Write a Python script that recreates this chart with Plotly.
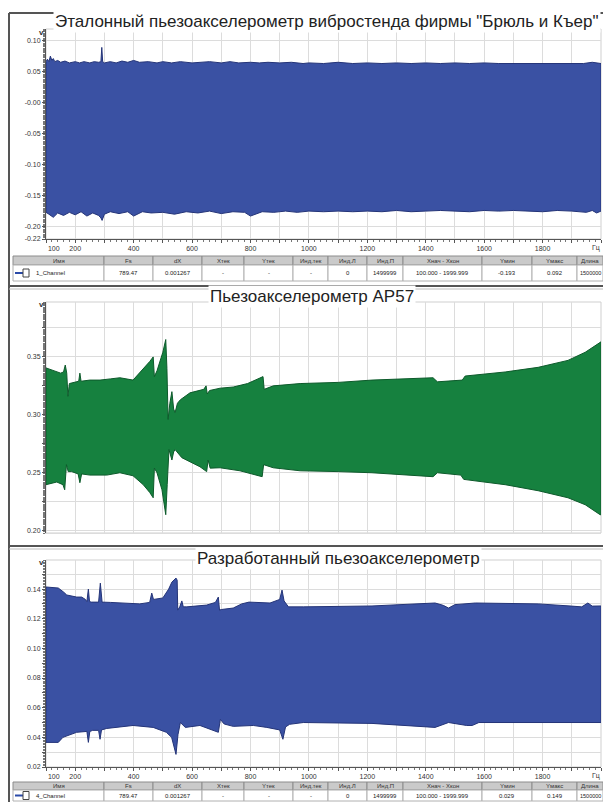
import plotly.graph_objects as go

# ---------------- DATA ----------------
# Panel 1: reference accelerometer (upper / lower envelope, V)
p1_top_x = [100, 105, 110, 115, 120, 125, 130, 140, 150, 165, 180, 200, 215, 230, 250, 265, 280, 288, 291, 294, 300,
            320, 340, 360, 380, 400, 420, 450, 480, 500, 530, 560, 600, 630, 660, 700, 730, 760, 800, 830, 860, 900,
            940, 980, 1000, 1050, 1100, 1150, 1200, 1250, 1300, 1350, 1400, 1450, 1500, 1550, 1600, 1650, 1700,
            1750, 1800, 1850, 1900, 1940, 1970, 1990, 2000]
p1_top_y = [0.066, 0.070, 0.066, 0.075, 0.068, 0.071, 0.066, 0.068, 0.065, 0.067, 0.064, 0.066, 0.064, 0.066, 0.064,
            0.066, 0.065, 0.066, 0.089, 0.066, 0.064, 0.066, 0.064, 0.067, 0.065, 0.068, 0.065, 0.066, 0.064, 0.066,
            0.064, 0.066, 0.064, 0.065, 0.066, 0.064, 0.066, 0.064, 0.065, 0.064, 0.065, 0.064, 0.065, 0.063, 0.064,
            0.063, 0.065, 0.063, 0.064, 0.063, 0.064, 0.063, 0.064, 0.063, 0.064, 0.063, 0.064, 0.063, 0.063, 0.064,
            0.063, 0.063, 0.064, 0.063, 0.065, 0.063, 0.063]
p1_bot_x = [100, 110, 125, 140, 160, 180, 200, 220, 240, 260, 280, 288, 292, 300, 320, 350, 380, 400, 430, 460, 500,
            540, 580, 620, 660, 700, 740, 780, 800, 840, 880, 920, 960, 1000, 1050, 1100, 1150, 1200, 1250, 1300,
            1350, 1400, 1450, 1500, 1550, 1600, 1650, 1700, 1750, 1800, 1850, 1900, 1950, 1970, 1985, 2000]
p1_bot_y = [-0.177, -0.180, -0.185, -0.178, -0.182, -0.177, -0.181, -0.176, -0.183, -0.178, -0.182, -0.186, -0.190,
            -0.180, -0.176, -0.179, -0.176, -0.183, -0.176, -0.178, -0.177, -0.180, -0.176, -0.178, -0.175, -0.179,
            -0.176, -0.177, -0.183, -0.176, -0.177, -0.175, -0.177, -0.175, -0.176, -0.175, -0.176, -0.175, -0.176,
            -0.174, -0.176, -0.175, -0.174, -0.175, -0.176, -0.174, -0.175, -0.174, -0.175, -0.176, -0.174, -0.175,
            -0.177, -0.174, -0.178, -0.175]

# Panel 2: AP57 accelerometer
p2_top_x = [100, 130, 150, 160, 166, 171, 175, 180, 200, 212, 216, 220, 250, 285, 320, 353, 398, 420, 433, 455, 467,
            471, 480, 500, 510, 514, 518, 524, 531, 537, 542, 550, 560, 593, 640, 648, 652, 660, 696, 741, 790, 843,
            847, 860, 878, 970, 1100, 1216, 1300, 1425, 1440, 1500, 1525, 1535, 1600, 1672, 1785, 1887, 1946, 1997,
            2000]
p2_top_y = [0.3405, 0.338, 0.336, 0.337, 0.343, 0.336, 0.316, 0.327, 0.328, 0.329, 0.336, 0.329, 0.330, 0.330, 0.331,
            0.332, 0.330, 0.336, 0.340, 0.346, 0.350, 0.333, 0.338, 0.354, 0.365, 0.340, 0.296, 0.310, 0.320, 0.305,
            0.302, 0.310, 0.313, 0.319, 0.322, 0.325, 0.318, 0.321, 0.323, 0.324, 0.327, 0.333, 0.322, 0.323, 0.325,
            0.327, 0.328, 0.330, 0.331, 0.332, 0.3285, 0.330, 0.330, 0.3335, 0.335, 0.337, 0.341, 0.347, 0.354,
            0.363, 0.363]
p2_bot_x = [100, 137, 158, 164, 170, 176, 188, 210, 216, 222, 250, 308, 353, 398, 433, 455, 467, 471, 480, 497, 510,
            515, 521, 531, 537, 542, 565, 627, 650, 655, 662, 696, 764, 840, 845, 878, 970, 1100, 1216, 1300, 1425,
            1440, 1520, 1530, 1600, 1672, 1785, 1887, 1946, 1997, 2000]
p2_bot_y = [0.2397, 0.242, 0.2397, 0.2353, 0.257, 0.251, 0.251, 0.249, 0.2414, 0.249, 0.248, 0.248, 0.250, 0.2474,
            0.2397, 0.233, 0.2284, 0.254, 0.250, 0.2353, 0.2138, 0.240, 0.270, 0.261, 0.268, 0.270, 0.263, 0.2552,
            0.251, 0.261, 0.254, 0.2543, 0.2517, 0.2466, 0.257, 0.2543, 0.2517, 0.251, 0.250, 0.249, 0.2466, 0.250,
            0.248, 0.2443, 0.242, 0.2397, 0.2345, 0.2284, 0.2224, 0.2138, 0.2138]

# Panel 3: developed accelerometer
p3_top_x = [100, 130, 142, 160, 171, 205, 222, 235, 240, 245, 249, 256, 280, 286, 292, 320, 353, 421, 455, 462, 468,
            500, 520, 531, 545, 549, 551, 558, 565, 570, 582, 650, 680, 690, 694, 700, 741, 770, 795, 867, 900, 908,
            915, 930, 981, 1216, 1432, 1460, 1478, 1500, 1570, 1785, 1900, 1934, 1955, 1970, 1997, 2000]
p3_top_y = [0.1414, 0.1410, 0.1407, 0.138, 0.136, 0.1346, 0.1346, 0.1330, 0.1315, 0.140, 0.1315, 0.1312, 0.1312,
            0.144, 0.1312, 0.1310, 0.1306, 0.1300, 0.1310, 0.1373, 0.1330, 0.134, 0.140, 0.1447, 0.1474, 0.1460,
            0.1258, 0.1280, 0.1320, 0.1280, 0.1280, 0.1292, 0.1310, 0.1346, 0.1258, 0.1262, 0.1272, 0.1300, 0.1312,
            0.1306, 0.1330, 0.1393, 0.1320, 0.1280, 0.1280, 0.1286, 0.1306, 0.1290, 0.1272, 0.1295, 0.1306, 0.1300,
            0.1285, 0.1280, 0.1306, 0.1285, 0.1286, 0.1286]
p3_bot_x = [100, 142, 158, 205, 240, 245, 250, 260, 280, 285, 290, 308, 398, 467, 512, 530, 545, 552, 560, 577, 627,
            690, 697, 710, 741, 810, 856, 900, 911, 920, 934, 981, 1216, 1432, 1478, 1540, 1559, 1582, 1785, 2000]
p3_bot_y = [0.0366, 0.0366, 0.0400, 0.0434, 0.0440, 0.0366, 0.0440, 0.0447, 0.0447, 0.0387, 0.0450, 0.0460, 0.0480,
            0.0467, 0.0434, 0.0400, 0.0285, 0.0420, 0.0500, 0.0467, 0.0480, 0.0434, 0.0521, 0.0490, 0.0474, 0.0480,
            0.0467, 0.0450, 0.0387, 0.0470, 0.0488, 0.0500, 0.0494, 0.0467, 0.0500, 0.0480, 0.0480, 0.0500, 0.0500,
            0.0500]

titles = ['Эталонный пьезоакселерометр вибростенда фирмы "Брюль и Къер"',
          "Пьезоакселерометр AP57",
          "Разработанный пьезоакселерометр"]

x_tick_vals = [100, 200, 300, 400, 500, 600, 700, 800, 900, 1000, 1100, 1200, 1300, 1400, 1500, 1600, 1700, 1800, 1900, 2000]
x_tick_text = ["\u00a0" * 8 + "100", "200", "", "400", "", "600", "", "800", "", "1000", "", "1200", "", "1400", "",
               "1600", "", "1800", "", ""]
x_unit = "Гц"
y_unit = "v"

y1_tick_vals = [0.10, 0.05, 0.0, -0.05, -0.10, -0.15, -0.20, -0.22]
y1_tick_text = ["0.10", "0.05", "-0.00", "-0.05", "-0.10", "-0.15", "-0.20", "-0.22"]
y2_tick_vals = [0.20, 0.225, 0.25, 0.275, 0.30, 0.325, 0.35, 0.375]
y2_tick_text = ["0.20", "", "0.25", "", "0.30", "", "0.35", ""]
y3_tick_vals = [0.02, 0.03, 0.04, 0.05, 0.06, 0.07, 0.08, 0.09, 0.10, 0.11, 0.12, 0.13, 0.14, 0.15]
y3_tick_text = ["0.02", "", "0.04", "", "0.06", "", "0.08", "", "0.10", "", "0.12", "", "0.14", ""]

table_cols = ["Имя", "Fs", "dX", "Xтек", "Yтек", "Инд.тек", "Инд.Л", "Инд.П", "Xнач - Xкон", "Yмин", "Yмакс", "Длина"]
table1_row = ["1_Channel", "789.47", "0.001267", "-", "-", "-", "0", "1499999", "100.000 - 1999.999", "-0.193",
              "0.092", "1500000"]
table3_row = ["4_Channel", "789.47", "0.001267", "-", "-", "-", "0", "1499999", "100.000 - 1999.999", "0.029",
              "0.149", "1500000"]

# ---------------- LAYOUT HELPERS ----------------
# page body has an 8px margin: figure is 595x794 so the page fits the 611x810 window
OFF = 8
W, H = 611 - 2 * OFF, 810 - 2 * OFF
def px(x): return (x - OFF) / W
def py(y): return 1 - (y - OFF) / H

BLUE, BLUE_EDGE = "#3a51a3", "#243478"
GREEN, GREEN_EDGE = "#16813f", "#0d5a2b"
FONT = "Liberation Sans, Arial, sans-serif"

fig = go.Figure()

def band(xt, yt, xb, yb, fill, edge, n):
    xs = list(xt) + list(reversed(xb)) + [xt[0]]
    ys = list(yt) + list(reversed(yb)) + [yt[0]]
    fig.add_trace(go.Scatter(x=xs, y=ys, mode="lines", fill="toself", fillcolor=fill,
                             line=dict(color=edge, width=1), hoverinfo="skip", showlegend=False,
                             xaxis="x" if n == 1 else f"x{n}", yaxis="y" if n == 1 else f"y{n}"))

band(p1_top_x, p1_top_y, p1_bot_x, p1_bot_y, BLUE, BLUE_EDGE, 1)
band(p2_top_x, p2_top_y, p2_bot_x, p2_bot_y, GREEN, GREEN_EDGE, 2)
band(p3_top_x, p3_top_y, p3_bot_x, p3_bot_y, BLUE, BLUE_EDGE, 3)

plot_x = [px(46), px(601)]
panels = [  # (top px, bottom px, y range)
    (29, 239, [-0.22, 0.1187]),
    (302, 533, [0.198, 0.3974]),
    (560, 767, [0.02, 0.1596]),
]
ytv = [(y1_tick_vals, y1_tick_text), (y2_tick_vals, y2_tick_text), (y3_tick_vals, y3_tick_text)]

tickfont = dict(family=FONT, size=7, color="#333333")
layout = {}
for i, (top, bot, yr) in enumerate(panels, start=1):
    sx = "" if i == 1 else str(i)
    layout[f"xaxis{sx}"] = dict(
        domain=plot_x, range=[100, 2000], anchor=f"y{sx}", automargin=False,
        tickvals=x_tick_vals, ticktext=x_tick_text, showticklabels=(i != 2),
        ticks="outside" if i != 2 else "", ticklen=3, tickcolor="#555",
        showgrid=True, gridcolor="#dcdcdc", gridwidth=1, zeroline=False,
        showline=True, linecolor="#555" if i != 2 else "#dcdcdc", linewidth=1,
        tickfont=tickfont, tickangle=0,
        minor=dict(dtick=20, ticks="outside" if i != 2 else "", ticklen=2, tickcolor="#777", showgrid=False),
        fixedrange=True,
    )
    tv, tt = ytv[i - 1]
    layout[f"yaxis{sx}"] = dict(
        domain=[py(bot), py(top)], range=yr, anchor=f"x{sx}", automargin=False,
        tickvals=tv, ticktext=tt, ticks="outside", ticklen=3, tickcolor="#555",
        showgrid=True, gridcolor="#dcdcdc", gridwidth=1, zeroline=False,
        showline=True, linecolor="#555", linewidth=1, tickfont=tickfont,
        minor=dict(nticks=40, ticks="outside", ticklen=2, tickcolor="#777", showgrid=False),
        fixedrange=True,
    )

shapes = []
annotations = []

# plot frames
for top, bot, _ in panels:
    shapes.append(dict(type="rect", xref="paper", yref="paper", x0=px(46), x1=px(601), y0=py(bot), y1=py(top),
                       line=dict(color="#cfcfcf", width=1), layer="below"))

# outer frame and separators
shapes.append(dict(type="line", xref="paper", yref="paper", x0=px(9), x1=px(9), y0=py(810), y1=py(13),
                   line=dict(color="#555", width=2)))
shapes.append(dict(type="line", xref="paper", yref="paper", x0=px(9), x1=px(611), y0=py(13), y1=py(13),
                   line=dict(color="#555", width=2)))
for ysep in (286, 546):
    shapes.append(dict(type="line", xref="paper", yref="paper", x0=px(9), x1=px(611), y0=py(ysep), y1=py(ysep),
                       line=dict(color="#555", width=2)))
    shapes.append(dict(type="line", xref="paper", yref="paper", x0=px(9), x1=px(611), y0=py(ysep + 3),
                       y1=py(ysep + 3), line=dict(color="#bbb", width=1)))

# titles
title_pos = [(327, 22), (312, 296), (338, 558)]
for t, (tx, ty) in zip(titles, title_pos):
    annotations.append(dict(text=t, xref="paper", yref="paper", x=px(tx), y=py(ty), showarrow=False,
                            xanchor="center", yanchor="middle", font=dict(family=FONT, size=17, color="#222"),
                            bgcolor="white"))

# unit labels
for vy in (33, 304, 562):
    annotations.append(dict(text=f"<b>{y_unit}</b>", xref="paper", yref="paper", x=px(41), y=py(vy),
                            showarrow=False, xanchor="center", yanchor="middle",
                            font=dict(family=FONT, size=8, color="#333")))
for uy in (248, 776):
    annotations.append(dict(text=x_unit, xref="paper", yref="paper", x=px(602), y=py(uy), showarrow=False,
                            xanchor="right", yanchor="middle", font=tickfont))

# tables
col_edges = [13, 104, 153, 202, 244, 293, 328, 367, 403, 482, 532, 577, 603]
def draw_table(row, y_head_top, y_head_bot, y_row_bot):
    for j in range(len(table_cols)):
        x0, x1 = col_edges[j], col_edges[j + 1]
        shapes.append(dict(type="rect", xref="paper", yref="paper", x0=px(x0), x1=px(x1),
                           y0=py(y_head_bot), y1=py(y_head_top), fillcolor="#cacaca",
                           line=dict(color="#8c8c8c", width=1)))
        shapes.append(dict(type="rect", xref="paper", yref="paper", x0=px(x0), x1=px(x1),
                           y0=py(y_row_bot), y1=py(y_head_bot), fillcolor="white",
                           line=dict(color="#b0b0b0", width=1)))
        annotations.append(dict(text=table_cols[j], xref="paper", yref="paper", x=px((x0 + x1) / 2),
                                y=py((y_head_top + y_head_bot) / 2), showarrow=False, xanchor="center",
                                yanchor="middle", font=dict(family=FONT, size=6, color="#333")))
        ym = (y_head_bot + y_row_bot) / 2
        if j == 0:
            annotations.append(dict(text=row[j], xref="paper", yref="paper", x=px(x0 + 21), y=py(ym),
                                    showarrow=False, xanchor="left", yanchor="middle",
                                    font=dict(family=FONT, size=6, color="#222")))
            shapes.append(dict(type="line", xref="paper", yref="paper", x0=px(x0 + 2), x1=px(x0 + 10),
                               y0=py(ym), y1=py(ym), line=dict(color="#2a4aa8", width=2)))
            shapes.append(dict(type="rect", xref="paper", yref="paper", x0=px(x0 + 10), x1=px(x0 + 16),
                               y0=py(ym + 4), y1=py(ym - 4), line=dict(color="#444", width=1)))
        else:
            annotations.append(dict(text=row[j], xref="paper", yref="paper", x=px((x0 + x1) / 2), y=py(ym),
                                    showarrow=False, xanchor="center", yanchor="middle",
                                    font=dict(family=FONT, size=6 if j < 11 else 5.5, color="#222")))

draw_table(table1_row, 256, 265, 281)
draw_table(table3_row, 782, 790, 801)

fig.update_layout(
    width=W, height=H, margin=dict(l=0, r=0, t=0, b=0, autoexpand=False),
    paper_bgcolor="white", plot_bgcolor="white",
    shapes=shapes, annotations=annotations, showlegend=False,
    **layout,
)

fig.write_html("out.html")
